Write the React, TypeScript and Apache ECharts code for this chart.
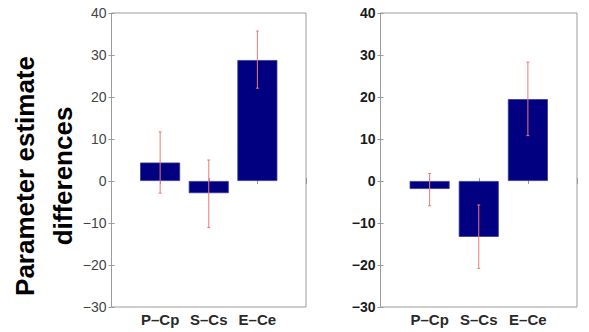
import React, { useEffect, useRef } from "react";
import * as echarts from "echarts";

const categories = ["P\u2013Cp", "S\u2013Cs", "E\u2013Ce"];
const yTicks = [-30, -20, -10, 0, 10, 20, 30, 40];

const leftValues = [4.4, -2.9, 28.8];
const leftLow = [-2.9, -11.1, 22.1];
const leftHigh = [11.7, 5.0, 35.7];

const rightValues = [-1.9, -13.3, 19.5];
const rightLow = [-5.9, -20.8, 10.8];
const rightHigh = [1.8, -5.7, 28.3];

const yTitleLines = ["Parameter estimate", "differences"];

const BAR = "#000080";
const ERR = "#f07878";
const AXIS = "#9a9a9a";
const FONT = "Liberation Sans, Arial, sans-serif";

function xAxisFor(gridIndex: number, position: "top" | "bottom", showLabel: boolean) {
  return {
    type: "value",
    gridIndex,
    position,
    min: 0,
    max: 4,
    interval: 1,
    axisLine: { show: false },
    axisTick: { show: true, inside: true, length: 3, lineStyle: { color: AXIS } },
    splitLine: { show: false },
    axisLabel: {
      show: showLabel,
      margin: 5,
      fontSize: 15,
      fontWeight: "bold",
      color: "#2a2a2a",
      fontFamily: FONT,
      formatter: (v: number) => categories[v - 1] ?? "",
    },
  };
}

function yAxisFor(gridIndex: number, position: "left" | "right", showLabel: boolean, labelColor: string, fs: number, fw: string) {
  return {
    type: "value",
    gridIndex,
    position,
    min: yTicks[0],
    max: yTicks[yTicks.length - 1],
    interval: 10,
    axisLine: { show: false },
    axisTick: { show: true, inside: true, length: 3, lineStyle: { color: AXIS } },
    splitLine: { show: false },
    axisLabel: {
      show: showLabel,
      margin: 5,
      fontSize: fs,
      fontWeight: fw,
      color: labelColor,
      fontFamily: FONT,
      formatter: (v: number) => (v < 0 ? "\u2212" + Math.abs(v) : String(v)),
    },
  };
}

function errRender(params: any, api: any) {
  const x = api.value(0);
  const lo = api.value(1);
  const hi = api.value(2);
  const p1 = api.coord([x, lo]);
  const p2 = api.coord([x, hi]);
  const style = { stroke: ERR, lineWidth: 1 };
  return {
    type: "group",
    children: [
      { type: "line", shape: { x1: p1[0], y1: p1[1], x2: p2[0], y2: p2[1] }, style },
      { type: "line", shape: { x1: p1[0] - 1.5, y1: p1[1], x2: p1[0] + 1.5, y2: p1[1] }, style },
      { type: "line", shape: { x1: p2[0] - 1.5, y1: p2[1], x2: p2[0] + 1.5, y2: p2[1] }, style },
    ],
  };
}

export default function App() {
  const ref = useRef<HTMLDivElement>(null);
  useEffect(() => {
    if (!ref.current) return;
    const chart = echarts.init(ref.current, undefined, { renderer: "svg" });
    const barData = (vals: number[]) => vals.map((v, i) => [i + 1, v]);
    const errData = (lo: number[], hi: number[]) => lo.map((l, i) => [i + 1, l, hi[i]]);
    chart.setOption({
      animation: false,
      backgroundColor: "#ffffff",
      grid: [
        { left: 111.5, top: 13, width: 194.5, height: 294, show: true, borderColor: AXIS, borderWidth: 1, backgroundColor: "transparent" },
        { left: 380.5, top: 13, width: 196.5, height: 294, show: true, borderColor: AXIS, borderWidth: 1, backgroundColor: "transparent" },
      ],
      xAxis: [
        xAxisFor(0, "bottom", true),
        xAxisFor(1, "bottom", true),
        xAxisFor(0, "top", false),
        xAxisFor(1, "top", false),
      ],
      yAxis: [
        yAxisFor(0, "left", true, "#444", 14, "normal"),
        yAxisFor(1, "left", true, "#1a1a1a", 14, "bold"),
        yAxisFor(0, "right", false, "#444", 14, "normal"),
        yAxisFor(1, "right", false, "#1a1a1a", 14, "bold"),
      ],
      series: [
        {
          type: "bar",
          xAxisIndex: 0,
          yAxisIndex: 0,
          data: barData(leftValues),
          barWidth: 40,
          itemStyle: { color: BAR, borderColor: "#3a3a90", borderWidth: 0.8 },
        },
        {
          type: "bar",
          xAxisIndex: 1,
          yAxisIndex: 1,
          data: barData(rightValues),
          barWidth: 40,
          itemStyle: { color: BAR, borderColor: "#3a3a90", borderWidth: 0.8 },
        },
        {
          type: "custom",
          xAxisIndex: 0,
          yAxisIndex: 0,
          data: errData(leftLow, leftHigh),
          encode: { x: 0, y: [1, 2] },
          renderItem: errRender,
          z: 5,
        },
        {
          type: "custom",
          xAxisIndex: 1,
          yAxisIndex: 1,
          data: errData(rightLow, rightHigh),
          encode: { x: 0, y: [1, 2] },
          renderItem: errRender,
          z: 5,
        },
      ],
      graphic: yTitleLines.map((t, i) => ({
        type: "text",
        x: 25 + i * 38,
        y: 176,
        rotation: Math.PI / 2,
        style: {
          text: t,
          fontSize: 26,
          fontWeight: "bold",
          fontFamily: FONT,
          fill: "#000",
          textAlign: "center",
          textVerticalAlign: "middle",
        },
      })),
    });
    return () => chart.dispose();
  }, []);
  return (
    <div
      ref={ref}
      style={{ position: "fixed", left: 0, top: 0, width: 589, height: 332 }}
    />
  );
}
